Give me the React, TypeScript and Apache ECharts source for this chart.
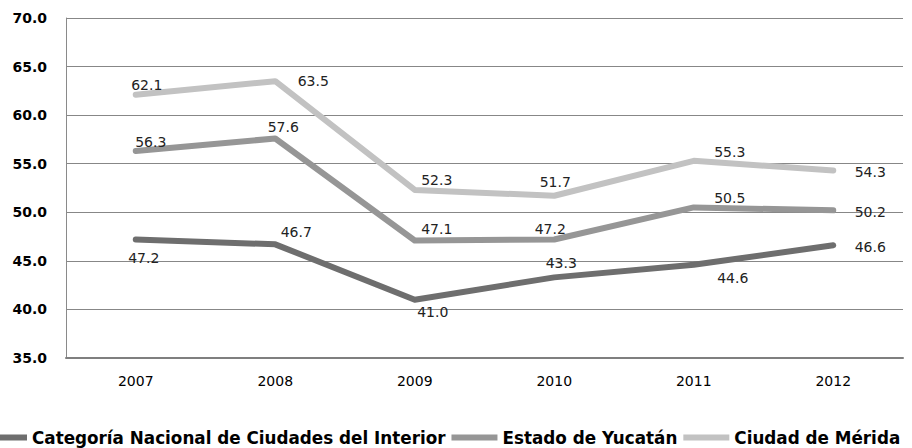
import React, { useEffect, useRef } from "react";
import * as echarts from "echarts";

const years = ["2007", "2008", "2009", "2010", "2011", "2012"];
const seriesNames = [
  "Categoría Nacional de Ciudades del Interior",
  "Estado de Yucatán",
  "Ciudad de Mérida",
];
const nacional = [47.2, 46.7, 41.0, 43.3, 44.6, 46.6];
const yucatan = [56.3, 57.6, 47.1, 47.2, 50.5, 50.2];
const merida = [62.1, 63.5, 52.3, 51.7, 55.3, 54.3];

// label placement (styling only): offset of each label centre from its point
const nacionalLabelOffsets = [[8, 19], [21, -12], [18, 12], [7, -14], [39, 13], [37, 2]];
const yucatanLabelOffsets = [[15, -9], [8, -11], [22, -11], [-4, -10], [36, -9], [37, 2]];
const meridaLabelOffsets = [[11, -10], [38, 0], [22, -10], [1, -14], [36, -9], [37, 1]];

const colors = ["#6e6e6e", "#969696", "#c2c2c2"];

export default function App() {
  const ref = useRef<HTMLDivElement>(null);
  useEffect(() => {
    if (!ref.current) return;
    const chart = echarts.init(ref.current, undefined, { renderer: "svg" });
    const labelFont = {
      fontFamily: "DejaVu Sans",
      fontSize: 14,
      color: "#222",
    };
    const mk = (name: string, values: number[], offsets: number[][], color: string) => ({
      name,
      type: "line",
      data: values.map((v, i) => ({
        value: v,
        label: { offset: offsets[i] },
      })),
      symbol: "circle",
      symbolSize: 1,
      showSymbol: true,
      itemStyle: { color },
      lineStyle: { color, width: 6, cap: "round", join: "round" },
      label: {
        show: true,
        position: "inside",
        formatter: (p: any) => Number(p.value).toFixed(1),
        ...labelFont,
      },
      emphasis: { disabled: true },
    });
    chart.setOption({
      animation: false,
      grid: { left: 66, right: 9, top: 18, bottom: 90 },
      legend: {
        left: -24,
        top: 424,
        width: 1000,
        itemWidth: 46,
        itemHeight: 6,
        itemGap: 6,
        icon: "rect",
        textStyle: { fontFamily: "DejaVu Sans", fontWeight: "bold", fontSize: 16.8, color: "#000" },
        data: seriesNames,
      },
      xAxis: {
        type: "category",
        data: years,
        boundaryGap: true,
        axisTick: { show: false },
        axisLine: { show: true, lineStyle: { color: "#7f7f7f", width: 2 } },
        axisLabel: {
          fontFamily: "DejaVu Sans",
          fontSize: 14,
          color: "#000",
          margin: 16,
        },
      },
      yAxis: {
        type: "value",
        min: 35,
        max: 70,
        interval: 5,
        axisLine: { show: true, lineStyle: { color: "#8a8a8a", width: 1 } },
        axisTick: { show: false },
        splitLine: { show: true, lineStyle: { color: "#878787", width: 1 } },
        axisLabel: {
          fontFamily: "DejaVu Sans",
          fontWeight: "bold",
          fontSize: 14,
          color: "#000",
          margin: 19,
          formatter: (v: number) => v.toFixed(1),
        },
      },
      series: [
        mk(seriesNames[0], nacional, nacionalLabelOffsets, colors[0]),
        mk(seriesNames[1], yucatan, yucatanLabelOffsets, colors[1]),
        mk(seriesNames[2], merida, meridaLabelOffsets, colors[2]),
      ],
    });
    return () => chart.dispose();
  }, []);
  return (
    <div
      ref={ref}
      style={{ position: "fixed", left: 0, top: 0, width: 912, height: 448, background: "#fff" }}
    />
  );
}
